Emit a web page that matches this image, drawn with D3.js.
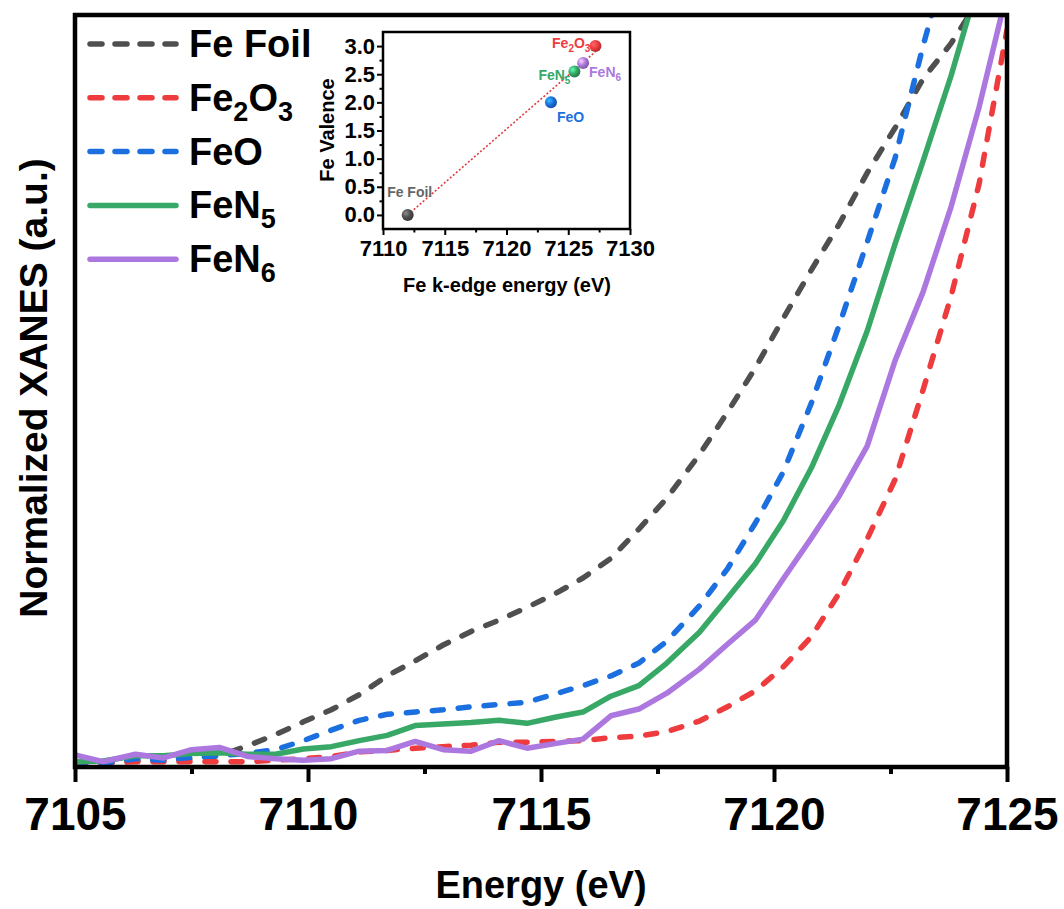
<!DOCTYPE html>
<html>
<head>
<meta charset="utf-8">
<script src="https://cdn.jsdelivr.net/npm/d3@7/dist/d3.min.js"></script>
<style>
  body { margin: 0; background: #fff; }
  svg text { font-family: "Liberation Sans", Arial, sans-serif; font-weight: bold; }
</style>
</head>
<body>
<svg id="chart" width="1064" height="909"></svg>
<script>
'use strict';

// energy grid (eV) shared by the XANES curves
var energy = [7105.0, 7105.6, 7106.3, 7106.9, 7107.5, 7108.1, 7108.7, 7109.3, 7109.9, 7110.5,
  7111.1, 7111.7, 7112.3, 7112.9, 7113.5, 7114.1, 7114.7, 7115.3, 7115.9, 7116.5,
  7117.1, 7117.7, 7118.4, 7119.0, 7119.6, 7120.2, 7120.8, 7121.4, 7122.0, 7122.6,
  7123.2, 7123.8, 7124.4, 7125.0];

// normalized XANES
var feFoil = [0.007, 0.005, 0.009, 0.009, 0.011, 0.015, 0.028, 0.043, 0.060, 0.076,
  0.096, 0.121, 0.141, 0.162, 0.180, 0.195, 0.212, 0.230, 0.251, 0.277,
  0.316, 0.357, 0.415, 0.471, 0.530, 0.596, 0.660, 0.721, 0.789, 0.849,
  0.914, 0.961, 1.019];
var fe2o3 = [0.005, 0.005, 0.007, 0.007, 0.007, 0.007, 0.007, 0.009, 0.011, 0.014,
  0.020, 0.022, 0.025, 0.027, 0.029, 0.033, 0.033, 0.034, 0.035, 0.039,
  0.041, 0.047, 0.061, 0.080, 0.101, 0.133, 0.173, 0.231, 0.303, 0.382,
  0.501, 0.625, 0.774, 0.979];
var feO = [0.007, 0.005, 0.011, 0.009, 0.013, 0.015, 0.018, 0.023, 0.035, 0.049,
  0.062, 0.070, 0.073, 0.076, 0.080, 0.083, 0.086, 0.097, 0.108, 0.121,
  0.138, 0.167, 0.214, 0.263, 0.324, 0.392, 0.483, 0.587, 0.697, 0.809,
  0.958, 1.092];
var feN5 = [0.007, 0.008, 0.015, 0.015, 0.018, 0.019, 0.017, 0.017, 0.024, 0.027,
  0.035, 0.042, 0.055, 0.057, 0.059, 0.062, 0.058, 0.066, 0.073, 0.094,
  0.108, 0.138, 0.179, 0.224, 0.270, 0.327, 0.397, 0.481, 0.579, 0.695,
  0.805, 0.918, 1.045];
var feN6 = [0.016, 0.007, 0.017, 0.012, 0.023, 0.026, 0.014, 0.011, 0.009, 0.011,
  0.021, 0.022, 0.034, 0.023, 0.021, 0.035, 0.025, 0.031, 0.037, 0.068,
  0.077, 0.098, 0.130, 0.163, 0.195, 0.250, 0.304, 0.360, 0.426, 0.540,
  0.631, 0.744, 0.876, 1.029];

var mainTicks = [7105, 7110, 7115, 7120, 7125];
var mainMinor = [7107.5, 7112.5, 7117.5, 7122.5];

// inset: edge energy vs valence
var insetNames = ['Fe Foil', 'FeO', 'FeN5', 'FeN6', 'Fe2O3'];
var edgeEnergy = [7112.0, 7123.6, 7125.5, 7126.2, 7127.2];
var valence = [0.0, 2.0, 2.55, 2.7, 3.0];
var fitEnergy = [7112.0, 7127.2];
var fitValence = [0.0, 2.9];
var insetXTicks = [7110, 7115, 7120, 7125, 7130];
var insetXMinor = [7112.5, 7117.5, 7122.5, 7127.5];
var insetYTicks = [0.0, 0.5, 1.0, 1.5, 2.0, 2.5, 3.0];
var insetYMinor = [0.25, 0.75, 1.25, 1.75, 2.25, 2.75];

var colors = {
  'Fe Foil': '#4f4f4f',
  'Fe2O3': '#ee3b3d',
  'FeO': '#1c6fdf',
  'FeN5': '#37a866',
  'FeN6': '#ac78e0'
};

// label pieces: [text, isSubscript]
var labelParts = {
  'Fe Foil': [['Fe Foil', false]],
  'Fe2O3': [['Fe', false], ['2', true], ['O', false], ['3', true]],
  'FeO': [['FeO', false]],
  'FeN5': [['FeN', false], ['5', true]],
  'FeN6': [['FeN', false], ['6', true]]
};

var series = [
  { name: 'Fe Foil', values: feFoil, dashed: true },
  { name: 'Fe2O3', values: fe2o3, dashed: true },
  { name: 'FeO', values: feO, dashed: true },
  { name: 'FeN5', values: feN5, dashed: false },
  { name: 'FeN6', values: feN6, dashed: false }
];

var svg = d3.select('#chart');
var plot = { left: 75, right: 1007, top: 15, bottom: 767 };

var x = d3.scaleLinear().domain([7105, 7125]).range([plot.left, plot.right]);
var y = d3.scaleLinear().domain([0, 1]).range([767, 14]);

svg.append('defs').append('clipPath').attr('id', 'plotclip')
  .append('rect')
  .attr('x', plot.left).attr('y', plot.top)
  .attr('width', plot.right - plot.left).attr('height', plot.bottom - plot.top);

function addLabel(sel, name, size) {
  var sub = Math.round(size * 0.7);
  var drop = Math.round(size * 0.25);
  var down = false;
  labelParts[name].forEach(function (p) {
    var t = sel.append('tspan').text(p[0]);
    if (p[1] && !down) {
      t.attr('dy', drop).style('font-size', sub + 'px');
      down = true;
    } else if (p[1]) {
      t.style('font-size', sub + 'px');
    } else if (down) {
      t.attr('dy', -drop);
      down = false;
    }
  });
}

// curves
var line = d3.line()
  .x(function (d, i) { return x(energy[i]); })
  .y(function (d) { return y(d); });

var curves = svg.append('g').attr('clip-path', 'url(#plotclip)');
series.forEach(function (s) {
  curves.append('path')
    .attr('d', line(s.values))
    .attr('fill', 'none')
    .attr('stroke', colors[s.name])
    .attr('stroke-width', 5.5)
    .attr('stroke-linejoin', 'round')
    .attr('stroke-linecap', 'round')
    .attr('stroke-dasharray', s.dashed ? '11,15' : null);
});

// frame
svg.append('rect')
  .attr('x', plot.left).attr('y', plot.top)
  .attr('width', plot.right - plot.left).attr('height', plot.bottom - plot.top)
  .attr('fill', 'none').attr('stroke', '#000').attr('stroke-width', 4.5);

// bottom axis
var xAxis = svg.append('g').attr('transform', 'translate(0,' + plot.bottom + ')')
  .call(d3.axisBottom(x).tickValues(mainTicks).tickSize(15).tickPadding(15).tickFormat(d3.format('d')));
var xMinor = svg.append('g').attr('transform', 'translate(0,' + plot.bottom + ')')
  .call(d3.axisBottom(x).tickValues(mainMinor).tickSize(7).tickFormat(''));
[xAxis, xMinor].forEach(function (g) {
  g.select('.domain').remove();
  g.selectAll('line').attr('stroke', '#000').attr('stroke-width', 4);
});
xAxis.selectAll('text').attr('fill', '#000').style('font-size', '46px');

svg.append('text')
  .attr('x', 541).attr('y', 898)
  .attr('text-anchor', 'middle')
  .style('font-size', '38px')
  .text('Energy (eV)');

svg.append('text')
  .attr('transform', 'translate(47,388) rotate(-90)')
  .attr('text-anchor', 'middle')
  .style('font-size', '39px')
  .text('Normalized XANES (a.u.)');

// legend
var legend = svg.append('g');
series.forEach(function (s, i) {
  var cy = 44 + i * 53.8;
  legend.append('line')
    .attr('x1', 90).attr('x2', 176).attr('y1', cy).attr('y2', cy)
    .attr('stroke', colors[s.name])
    .attr('stroke-width', 5.5)
    .attr('stroke-linecap', 'round')
    .attr('stroke-dasharray', s.dashed ? '12,13' : null);
  var t = legend.append('text').attr('x', 189).attr('y', cy + 13).style('font-size', '38px');
  addLabel(t, s.name, 38);
});

// inset
var ix = d3.scaleLinear().domain([7110, 7130]).range([383, 630]);
var iy = d3.scaleLinear().domain([-0.25, 3.25]).range([229, 32]);

var inset = svg.append('g');
inset.append('rect')
  .attr('x', 383).attr('y', 32).attr('width', 630 - 383).attr('height', 229 - 32)
  .attr('fill', '#fff').attr('stroke', '#000').attr('stroke-width', 2.5);

var ixAxis = inset.append('g').attr('transform', 'translate(0,229)')
  .call(d3.axisBottom(ix).tickValues(insetXTicks).tickSize(6).tickPadding(5).tickFormat(d3.format('d')));
var ixMinor = inset.append('g').attr('transform', 'translate(0,229)')
  .call(d3.axisBottom(ix).tickValues(insetXMinor).tickSize(3.5).tickFormat(''));
var iyAxis = inset.append('g').attr('transform', 'translate(383,0)')
  .call(d3.axisLeft(iy).tickValues(insetYTicks).tickSize(6).tickPadding(2).tickFormat(d3.format('.1f')));
var iyMinor = inset.append('g').attr('transform', 'translate(383,0)')
  .call(d3.axisLeft(iy).tickValues(insetYMinor).tickSize(3.5).tickFormat(''));
[ixAxis, ixMinor, iyAxis, iyMinor].forEach(function (g) {
  g.select('.domain').remove();
  g.selectAll('line').attr('stroke', '#000').attr('stroke-width', 2);
});
[ixAxis, iyAxis].forEach(function (g) {
  g.selectAll('text').attr('fill', '#000').style('font-size', '22px');
});

inset.append('text')
  .attr('x', 507).attr('y', 292)
  .attr('text-anchor', 'middle')
  .style('font-size', '20px')
  .text('Fe k-edge energy (eV)');
inset.append('text')
  .attr('transform', 'translate(334,130) rotate(-90)')
  .attr('text-anchor', 'middle')
  .style('font-size', '20px')
  .text('Fe Valence');

inset.append('line')
  .attr('x1', ix(fitEnergy[0])).attr('y1', iy(fitValence[0]))
  .attr('x2', ix(fitEnergy[1])).attr('y2', iy(fitValence[1]))
  .attr('stroke', '#e0393b').attr('stroke-width', 1.6)
  .attr('stroke-dasharray', '2,2');

var defs = svg.select('defs');
insetNames.forEach(function (name, i) {
  var c = d3.color(colors[name]);
  var grad = defs.append('radialGradient').attr('id', 'ball' + i)
    .attr('cx', '35%').attr('cy', '35%').attr('r', '65%');
  grad.append('stop').attr('offset', '0%').attr('stop-color', c.brighter(1.6));
  grad.append('stop').attr('offset', '55%').attr('stop-color', c);
  grad.append('stop').attr('offset', '100%').attr('stop-color', c.darker(0.8));
});

inset.selectAll('.ball').data(insetNames).enter().append('circle')
  .attr('class', 'ball')
  .attr('cx', function (d, i) { return ix(edgeEnergy[i]); })
  .attr('cy', function (d, i) { return iy(valence[i]); })
  .attr('r', 6)
  .attr('fill', function (d, i) { return 'url(#ball' + i + ')'; });

// point labels: offset from the point, anchor
var labelPos = {
  'Fe Foil': [2, -18, 'middle'],
  'FeO': [6, 20, 'start'],
  'FeN5': [-4, 9, 'end'],
  'FeN6': [6, 14, 'start'],
  'Fe2O3': [-5, 2, 'end']
};
insetNames.forEach(function (name, i) {
  var p = labelPos[name];
  var t = inset.append('text')
    .attr('x', ix(edgeEnergy[i]) + p[0])
    .attr('y', iy(valence[i]) + p[1])
    .attr('text-anchor', p[2])
    .attr('fill', name === 'Fe Foil' ? '#666' : colors[name])
    .style('font-size', '14px');
  addLabel(t, name, 14);
});
</script>
</body>
</html>
